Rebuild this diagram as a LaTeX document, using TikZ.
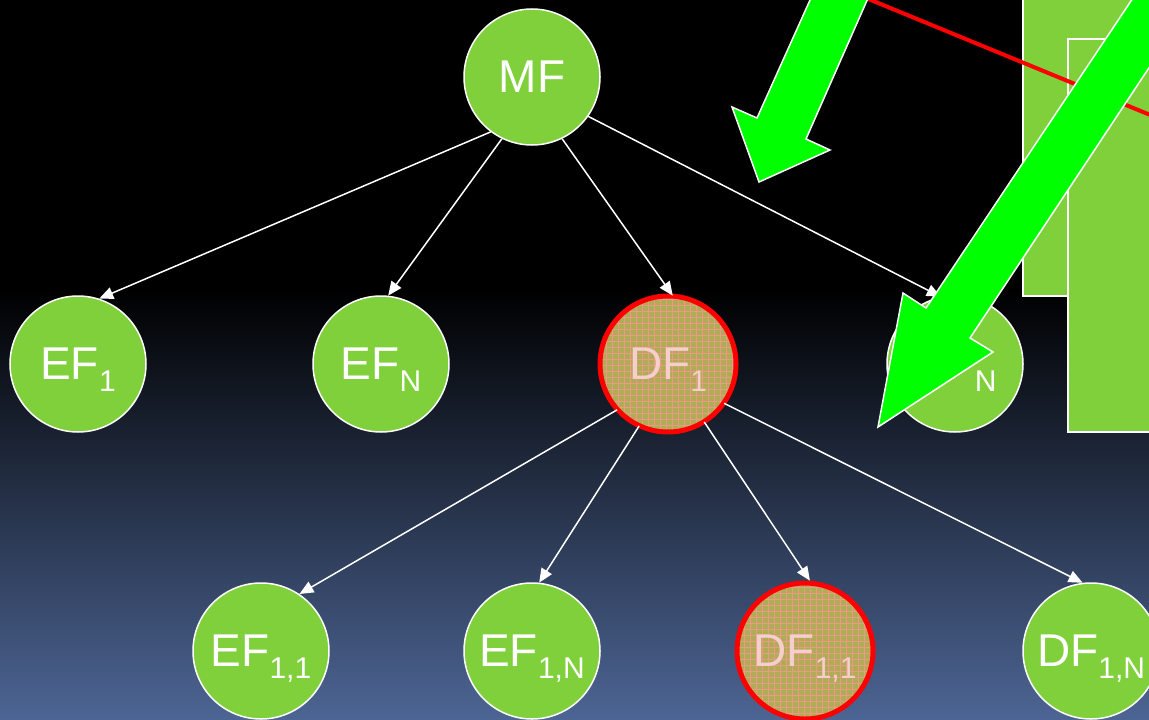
\documentclass[tikz,border=0pt]{standalone}
\usepackage{fontspec}
\setmainfont{Liberation Sans}
\usetikzlibrary{arrows.meta,patterns.meta}
\definecolor{nodegreen}{HTML}{80D03C}
\definecolor{bgbottom}{HTML}{4D6594}
\definecolor{dfolive}{HTML}{AEAD55}
\definecolor{dfgrid}{HTML}{EC9A86}
\definecolor{dftext}{HTML}{F8CDCD}
\definecolor{arrowgreen}{HTML}{00FF00}
\newcommand{\sbs}[1]{\smash{\raisebox{-12pt}{\fontsize{30}{32}\selectfont #1}}}
\begin{document}
\begin{tikzpicture}[x=1pt,y=-1pt,
  fnode/.style={circle, minimum size=136pt, inner sep=0pt, fill=nodegreen, draw=white, line width=1.5pt, text=white, font=\fontsize{46}{48}\selectfont},
  dnode/.style={circle, minimum size=136pt, inner sep=0pt, draw=red, line width=5pt, preaction={fill=dfolive}, pattern={Hatch[angle=0,distance=6pt,line width=1pt]}, pattern color=dfgrid, text=dftext, font=\fontsize{46}{48}\selectfont},
  conn/.style={draw=white, line width=1.5pt, -{Triangle[length=14pt,width=12pt]}},
  bigarrow/.style={fill=arrowgreen, draw=white, line width=1.5pt, line join=miter},
  panel/.style={fill=nodegreen, draw=white, line width=1.5pt},
  redline/.style={draw=red, line width=4pt}
]
\path[use as bounding box] (0,0) rectangle (1149,720);
\clip (0,0) rectangle (1149,720);
% background
\fill[black] (0,0) rectangle (1149,291);
\shade[top color=black, bottom color=bgbottom] (0,290) rectangle (1149,720);

% nodes
\node[fnode] (MF) at (532,77) {MF};
\node[fnode] (EF1) at (78,364) {EF\sbs{1}};
\node[fnode] (EFN) at (381,364) {EF\sbs{N}};
\node[dnode] (DF1) at (668,364) {DF\sbs{1}};
\node[fnode] (DFN) at (955,364) {DF\sbs{N}};
\node[fnode] (EF11) at (261,651) {EF\sbs{1,1}};
\node[fnode] (EF1N) at (532,651) {EF\sbs{1,N}};
\node[dnode] (DF11) at (805,651) {DF\sbs{1,1}};
\node[fnode] (DF1N) at (1091,651) {DF\sbs{1,N}};

% connectors
\draw[conn] (MF.233) -- (EF1.72);
\draw[conn] (MF.244) -- (EFN.84);
\draw[conn] (MF.296) -- (DF1.86);
\draw[conn] (MF.325) -- (DFN.102);
\draw[conn] (DF1.222) -- (EF11.56);
\draw[conn] (DF1.245) -- (EF1N.84);
\draw[conn] (DF1.302) -- (DF11.86);
\draw[conn] (DF1.325) -- (DF1N.97);

% panels on the right
\draw[panel] (1023,-5) rectangle (1165,296);
\draw[panel] (1068,39) rectangle (1165,432);

% red line
\draw[redline] (866,-2) -- (1160,119);

% green block arrows
\draw[bigarrow] (819,-20) -- (757,118) -- (732,107) -- (759,182) -- (830,150) -- (806,139) -- (876,-20) -- cycle;
\draw[bigarrow] (1165,-50) -- (926,308) -- (903,293) -- (878,427) -- (993,352) -- (970,338) -- (1227,-50) -- cycle;
\end{tikzpicture}
\end{document}
